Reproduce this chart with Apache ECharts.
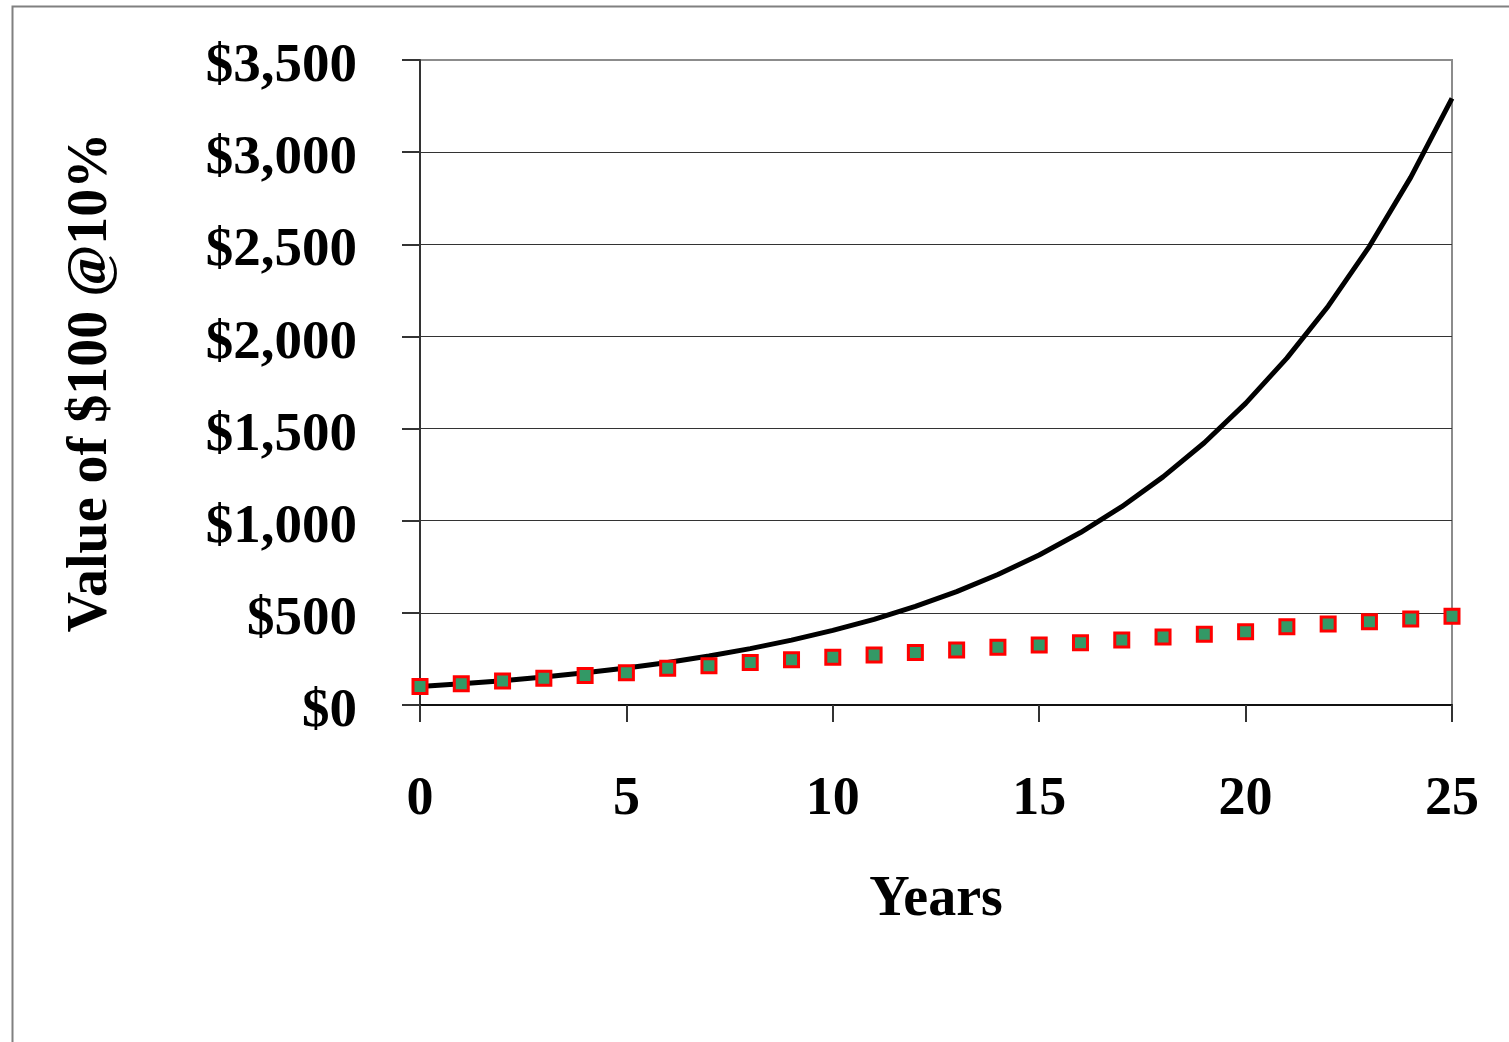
<!DOCTYPE html>
<html>
<head>
<meta charset="utf-8">
<script src="https://cdn.jsdelivr.net/npm/echarts@6/dist/echarts.min.js"></script>
<style>
html,body{margin:0;padding:0;background:#fff;}
#chart{width:1509px;height:1042px;}
</style>
</head>
<body>
<div id="chart"></div>
<script>
// Years 0..25
var years = [0,1,2,3,4,5,6,7,8,9,10,11,12,13,14,15,16,17,18,19,20,21,22,23,24,25];
// Compound growth curve (black line)
var compoundValues = [100,115,132,152,175,201,231,266,306,352,405,465,535,615,708,814,936,1076,1238,1423,1637,1882,2164,2489,2863,3292];
// Simple growth (square markers)
var simpleValues = [100,115,130,145,160,175,200,213,230,245,259,271,285,298,313,326,338,353,369,384,398,425,440,452,467,481];
var yTickMax = 3500;
var yTickStep = 500;
var xTickStep = 5;
var yAxisTitle = 'Value of $100 @10%';
var xAxisTitle = 'Years';

var FONT = '"Liberation Serif","Times New Roman",serif';

var compoundData = years.map(function(y,i){return [y, compoundValues[i]];});
var simpleData = years.map(function(y,i){return [y, simpleValues[i]];});

var chart = echarts.init(document.getElementById('chart'), null, {renderer:'canvas'});
chart.setOption({
  backgroundColor:'#fff',
  animation:false,
  graphic:[{
    type:'rect', left:10, top:4, z:-10,
    shape:{x:0,y:0,width:1600,height:1100},
    style:{fill:'none', stroke:'#808080', lineWidth:2}
  }],
  grid:{left:420, right:57, top:60, bottom:337, show:true, borderColor:'#8c8c8c', borderWidth:2, backgroundColor:'transparent'},
  xAxis:{
    type:'value', min:0, max:25, interval:xTickStep,
    name:xAxisTitle, nameLocation:'middle', nameGap:168,
    nameTextStyle:{fontFamily:FONT, fontWeight:'bold', fontSize:56, color:'#000'},
    axisLine:{show:true, onZero:false, lineStyle:{color:'#111', width:2}},
    axisTick:{show:true, length:17, lineStyle:{color:'#333', width:2}},
    axisLabel:{margin:68, fontFamily:FONT, fontWeight:'bold', fontSize:54, color:'#000'},
    splitLine:{show:false}
  },
  yAxis:{
    type:'value', min:0, max:yTickMax, interval:yTickStep,
    name:yAxisTitle, nameLocation:'middle', nameGap:300, nameRotate:90,
    nameTextStyle:{fontFamily:FONT, fontWeight:'bold', fontSize:56, color:'#000'},
    axisLine:{show:true, lineStyle:{color:'#333', width:2}},
    axisTick:{show:true, length:18, lineStyle:{color:'#333', width:2}},
    axisLabel:{margin:63, fontFamily:FONT, fontWeight:'bold', fontSize:55, color:'#000',
      verticalAlign:'top', lineHeight:14,
      formatter:function(v){return '$' + v.toLocaleString('en-US');}},
    splitLine:{show:true, lineStyle:{color:['#333','#333','#333','#333','#333','#333','#333','#8c8c8c'], width:1}}
  },
  series:[
    {type:'line', data:compoundData, showSymbol:false, symbol:'none', z:2,
      lineStyle:{color:'#000', width:5}},
    {type:'scatter', data:simpleData, symbol:'rect', symbolSize:14, z:3,
      itemStyle:{color:'#339966', borderColor:'#ff0000', borderWidth:3, opacity:1}}
  ]
});
</script>
</body>
</html>
